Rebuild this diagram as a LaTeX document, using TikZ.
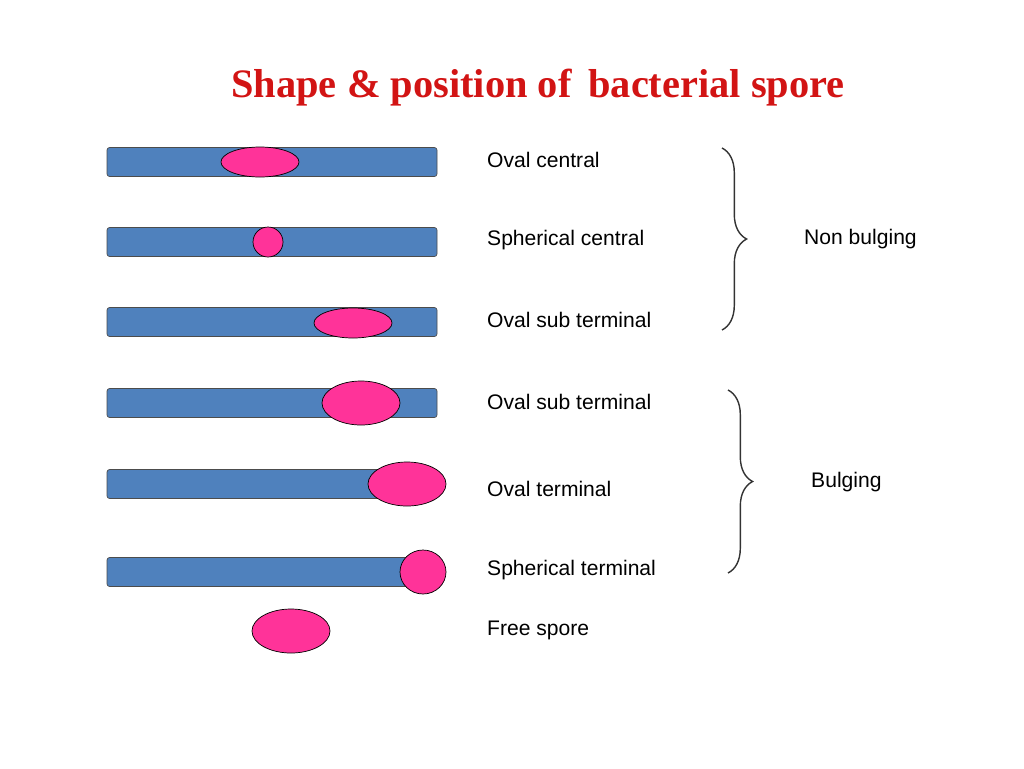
\documentclass[tikz,border=0pt]{standalone}
\usepackage{fontspec}
\setmainfont{Liberation Sans}
\newfontfamily\titlefont{Liberation Serif}
\usetikzlibrary{decorations.pathreplacing}
\definecolor{rodblue}{RGB}{79,129,189}
\definecolor{sporepink}{RGB}{255,51,153}
\definecolor{titlered}{RGB}{210,20,20}
\tikzset{
  rod/.style={draw=black!70, fill=rodblue, rounded corners=1.5pt},
  spore/.style={draw=black, fill=sporepink},
  lbl/.style={anchor=west, font=\fontsize{12}{14}\selectfont},
  brc/.style={decorate, decoration={brace, amplitude=14pt}, thick, black!80}
}
\begin{document}
\begin{tikzpicture}[x=0.02cm,y=-0.02cm]
  \useasboundingbox (0,0) rectangle (1024,768);
  % title
  \node[font=\titlefont\bfseries\fontsize{23}{26}\selectfont, text=titlered] (title) at (538,88) {Shape \& position of\, bacterial spore};

  % rods
  \foreach \y in {162,242,322,403,484,572}
    \draw[rod] (107,\y-14.5) rectangle (437,\y+14.5);

  % spores
  \draw[spore] (260,162) ellipse (39 and 15);  % oval central
  \draw[spore] (268,242) circle (15);  % spherical central
  \draw[spore] (353,323) ellipse (39 and 15);  % oval sub terminal
  \draw[spore] (361,403) ellipse (39 and 22);  % bulging sub terminal
  \draw[spore] (407,484) ellipse (39 and 22);  % oval terminal
  \draw[spore] (423,572) ellipse (23 and 22);  % spherical terminal
  \draw[spore] (291,631) ellipse (39 and 22);  % free spore

  % labels
  \node[lbl] (l1) at (481,160) {Oval central};
  \node[lbl] (l2) at (481,240) {Spherical central};
  \node[lbl] (l3) at (481,320) {Oval sub terminal};
  \node[lbl] (l4) at (481,402) {Oval sub terminal};
  \node[lbl] (l5) at (481,489) {Oval terminal};
  \node[lbl] (l6) at (481,570) {Spherical terminal};
  \node[lbl] (l7) at (481,630) {Free spore};

  % braces
  \coordinate (b1t) at (722,148);
  \coordinate (b1b) at (722,330);
  \draw[brc] (b1t) -- (b1b);
  \node[lbl] (nb) at (798,239) {Non bulging};
  \coordinate (b2t) at (728,390);
  \coordinate (b2b) at (728,573);
  \draw[brc] (b2t) -- (b2b);
  \node[lbl] (bg) at (805,482) {Bulging};
\end{tikzpicture}
\end{document}
